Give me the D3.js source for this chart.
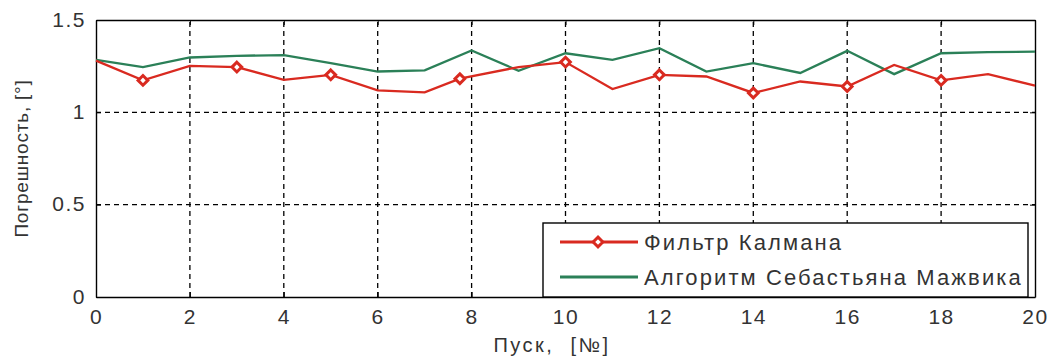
<!DOCTYPE html>
<html>
<head>
<meta charset="utf-8">
<script src="https://cdn.jsdelivr.net/npm/d3@7"></script>
<style>
  body { margin: 0; background: #fff; }
  svg { font-family: "Liberation Sans", Arial, sans-serif; }
  .tick text { font-size: 21px; fill: #333; letter-spacing: 1.5px; }
</style>
</head>
<body>
<svg width="1049" height="360"></svg>
<script>
var width = 1049;
var height = 360;
var margin = { top: 20, right: 14, bottom: 63, left: 96 };

// x positions (run number)
var runs = [0, 1, 2, 3, 4, 5, 6, 7, 8, 9, 10, 11, 12, 13, 14, 15, 16, 17, 18, 19, 20];
// Sebastian Madgwick's algorithm
var madgwick = [1.284, 1.245, 1.297, 1.306, 1.31, 1.266, 1.221, 1.227, 1.335, 1.225, 1.32,
                1.284, 1.347, 1.221, 1.266, 1.213, 1.333, 1.207, 1.32, 1.326, 1.329];
// Kalman filter (its own x values, one vertex sits a bit before 8)
var kalmanX = [0, 1, 2, 3, 4, 5, 6, 7, 7.75, 9, 10, 11, 12, 13, 14, 15, 16, 17, 18, 19, 20];
var kalman = [1.28, 1.173, 1.252, 1.245, 1.176, 1.203, 1.119, 1.108, 1.182, 1.245, 1.272,
              1.126, 1.203, 1.194, 1.105, 1.167, 1.14, 1.257, 1.173, 1.207, 1.144];
// which kalman vertices get a marker
var markerIdx = [1, 3, 5, 8, 10, 12, 14, 16, 18];

var xTicks = [0, 2, 4, 6, 8, 10, 12, 14, 16, 18, 20];
var yTicks = [0, 0.5, 1, 1.5];
var names = ["Фильтр Калмана", "Алгоритм Себастьяна Мажвика"];
var xTitle = "Пуск, [№]";
var yTitle = "Погрешность, [°]";

var red = "#d92a20";
var green = "#2b8058";

var svg = d3.select("svg");
var x = d3.scaleLinear().domain([0, 20]).range([margin.left, width - margin.right]);
var y = d3.scaleLinear().domain([0, 1.5]).range([height - margin.bottom, margin.top]);

// grid
var grid = svg.append("g");
grid.selectAll(".gx")
    .data(xTicks.slice(1, -1))
    .enter().append("line")
    .attr("x1", function (d) { return x(d); })
    .attr("x2", function (d) { return x(d); })
    .attr("y1", y(0)).attr("y2", y(1.5))
    .attr("stroke", "#000").attr("stroke-width", 1.3)
    .attr("stroke-dasharray", "5,4");
grid.selectAll(".gy")
    .data(yTicks.slice(1, -1))
    .enter().append("line")
    .attr("y1", function (d) { return y(d); })
    .attr("y2", function (d) { return y(d); })
    .attr("x1", x(0)).attr("x2", x(20))
    .attr("stroke", "#000").attr("stroke-width", 1.3)
    .attr("stroke-dasharray", "5,4");

// axes (ticks point inward like matlab)
svg.append("g")
    .attr("class", "x-axis")
    .attr("transform", "translate(0," + y(0) + ")")
    .call(d3.axisBottom(x).tickValues(xTicks).tickFormat(d3.format("d")).tickSizeInner(-5).tickSizeOuter(0).tickPadding(12));
svg.append("g")
    .attr("class", "y-axis")
    .attr("transform", "translate(" + x(0) + ",0)")
    .call(d3.axisLeft(y).tickValues(yTicks).tickFormat(function (d) { return d; }).tickSizeInner(-5).tickSizeOuter(0).tickPadding(10));
svg.append("g")
    .attr("transform", "translate(0," + y(1.5) + ")")
    .call(d3.axisTop(x).tickValues(xTicks).tickFormat("").tickSizeInner(-5).tickSizeOuter(0));
svg.append("g")
    .attr("transform", "translate(" + x(20) + ",0)")
    .call(d3.axisRight(y).tickValues(yTicks).tickFormat("").tickSizeInner(-5).tickSizeOuter(0));
svg.selectAll(".domain").attr("stroke", "#000").attr("stroke-width", 1.4);
svg.selectAll(".tick line").attr("stroke", "#000");
svg.selectAll(".y-axis .tick text").attr("dy", "0.3em");

// lines
var line = d3.line()
    .x(function (d) { return x(d[0]); })
    .y(function (d) { return y(d[1]); });

svg.append("path")
    .datum(runs.map(function (r, i) { return [r, madgwick[i]]; }))
    .attr("d", line)
    .attr("fill", "none").attr("stroke", green).attr("stroke-width", 2.3);

var kalmanPts = kalmanX.map(function (r, i) { return [r, kalman[i]]; });
svg.append("path")
    .datum(kalmanPts)
    .attr("d", line)
    .attr("fill", "none").attr("stroke", red).attr("stroke-width", 2.3);

var diamond = d3.symbol().type(d3.symbolDiamond2).size(60);
svg.selectAll(".mk")
    .data(markerIdx.map(function (i) { return kalmanPts[i]; }))
    .enter().append("path")
    .attr("d", diamond)
    .attr("transform", function (d) { return "translate(" + x(d[0]) + "," + y(d[1]) + ")"; })
    .attr("fill", "#fff").attr("stroke", red).attr("stroke-width", 3);

// axis titles
svg.append("text")
    .attr("x", 552)
    .attr("y", 352)
    .attr("text-anchor", "middle")
    .attr("font-size", "20px").attr("fill", "#333")
    .attr("letter-spacing", "2.5px").attr("word-spacing", "8px")
    .text(xTitle);
svg.append("text")
    .attr("transform", "translate(28," + y(0.75) + ") rotate(-90)")
    .attr("text-anchor", "middle")
    .attr("font-size", "19px").attr("fill", "#333")
    .attr("letter-spacing", "0.8px")
    .text(yTitle);

// legend
var lg = svg.append("g").attr("transform", "translate(543,223)");
lg.append("rect")
    .attr("width", 485).attr("height", 74)
    .attr("fill", "#fff").attr("stroke", "#000").attr("stroke-width", 1.4);
var rows = [{ c: red, m: true, yy: 19 }, { c: green, m: false, yy: 54 }];
rows.forEach(function (r, i) {
    lg.append("line")
        .attr("x1", 17).attr("x2", 95)
        .attr("y1", r.yy).attr("y2", r.yy)
        .attr("stroke", r.c).attr("stroke-width", 3);
    if (r.m) {
        lg.append("path")
            .attr("d", diamond)
            .attr("transform", "translate(55," + r.yy + ")")
            .attr("fill", "#fff").attr("stroke", red).attr("stroke-width", 3);
    }
    lg.append("text")
        .attr("x", 101).attr("y", r.yy)
        .attr("dy", "0.36em")
        .attr("font-size", "22px").attr("fill", "#333")
        .attr("letter-spacing", "2.1px")
        .text(names[i]);
});
</script>
</body>
</html>
